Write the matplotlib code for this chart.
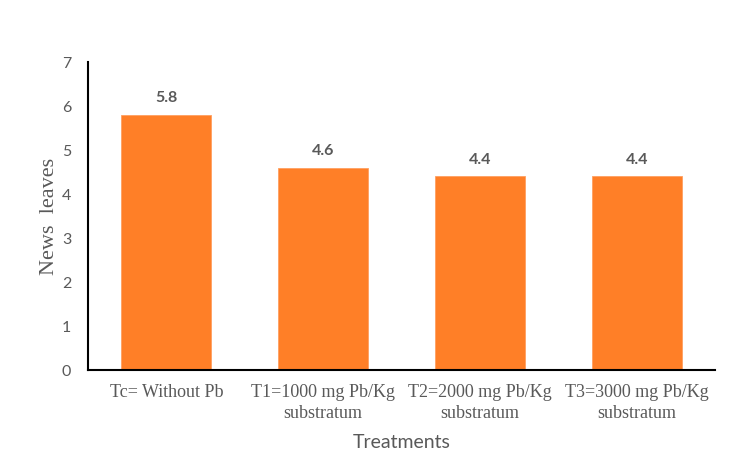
import matplotlib
matplotlib.use("Agg")
import matplotlib.pyplot as plt
import numpy as np

categories = ["Tc= Without Pb", "T1=1000 mg Pb/Kg\nsubstratum",
              "T2=2000 mg Pb/Kg\nsubstratum", "T3=3000 mg Pb/Kg\nsubstratum"]
values = [5.8, 4.6, 4.4, 4.4]
yticks = [0, 1, 2, 3, 4, 5, 6, 7]

gray = "#595959"
fig = plt.figure(figsize=(7.43, 4.63), dpi=100)
ax = fig.add_axes([88/743, 1-370/463, (715-88)/743, (370-62)/463])
x = np.arange(len(categories))
bars = ax.bar(x, values, width=0.575, color="#FF7F27", edgecolor="#FFA060", linewidth=0.6, zorder=2)
ax.set_xlim(-0.5, len(categories)-0.5)
ax.set_ylim(0, 7)
ax.set_yticks(yticks)
ax.set_yticklabels([str(v) for v in yticks], family="Lato", fontsize=11.5, color=gray)
ax.set_xticks(x)
ax.set_xticklabels(categories, family="Liberation Serif", fontsize=13, color=gray, linespacing=1.3)
ax.tick_params(axis="both", length=0)
ax.tick_params(axis="x", pad=10)
ax.tick_params(axis="y", pad=12)
for s in ["top", "right"]:
    ax.spines[s].set_visible(False)
for s in ["left", "bottom"]:
    ax.spines[s].set_linewidth(1.5)
    ax.spines[s].set_color("black")
for xi, v in zip(x, values):
    ax.annotate(f"{v}", (xi, v), xytext=(0, 7), textcoords="offset points",
                ha="center", va="bottom", family="Lato", fontweight="bold",
                fontsize=11.5, color=gray)
ax.set_ylabel("News  leaves", family="Liberation Serif", fontsize=16, color=gray, labelpad=2)
ax.set_xlabel("Treatments", family="Lato", fontsize=14, color=gray, labelpad=9)
fig.savefig("out.png", dpi=100)
